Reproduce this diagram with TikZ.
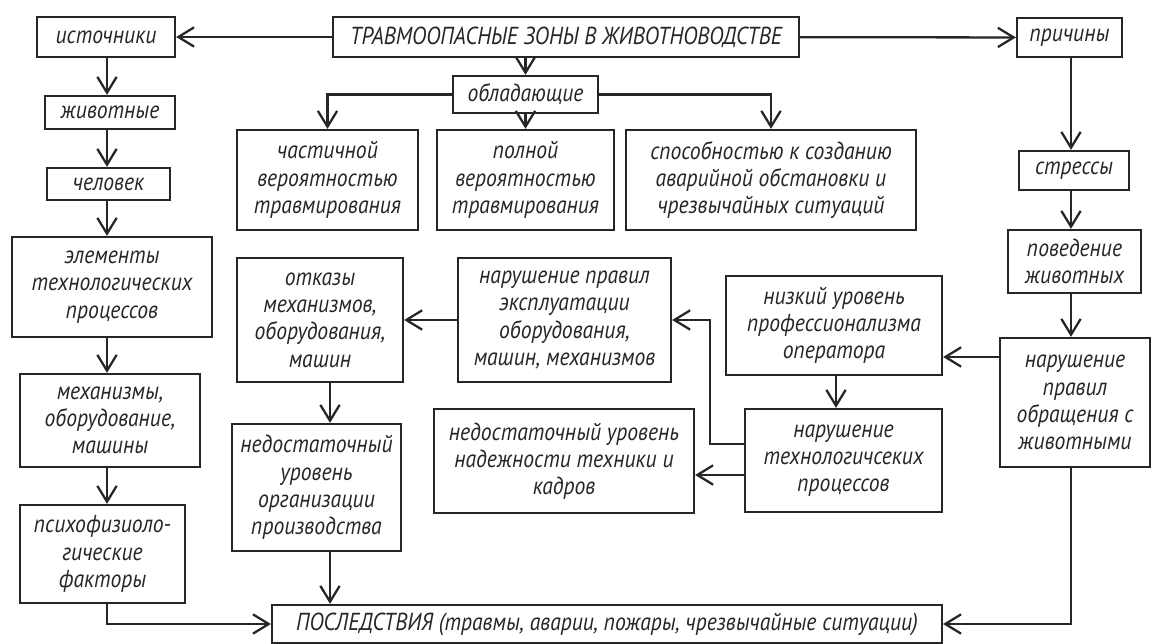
\documentclass[tikz,border=0pt]{standalone}
\usepackage{fontspec}
\setmainfont{PT Sans}[FakeStretch=0.88]
\usetikzlibrary{arrows.meta}

\begin{document}
\begin{tikzpicture}[x=0.02cm, y=-0.02cm,
    box/.style={draw=black!85, line width=1.3pt, align=center, inner sep=0pt, text=black!85, font=\itshape\fontsize{14}{15.5}\selectfont},
    arr/.style={draw=black!85, line width=1.3pt, arrows = {-Straight Barb[width=11pt, length=9pt]}}]
    \useasboundingbox (0, 0) rectangle (1153, 644);
    % top row
    \node[box, minimum width=9.32cm, minimum height=0.8cm] (title) at (566, 37) {ТРАВМООПАСНЫЕ ЗОНЫ В ЖИВОТНОВОДСТВЕ};
    \node[box, minimum width=2.76cm, minimum height=0.8cm] (istoch) at (106, 37) {источники};
    \node[box, minimum width=2.1cm, minimum height=0.78cm] (prich) at (1069.5, 37.5) {причины};
    \node[box, minimum width=2.9cm, minimum height=0.74cm] (obl) at (525.5, 94.5) {обладающие};
    \node[box, minimum width=3.62cm, minimum height=2cm] (chast) at (327.5, 180) {частичной\\вероятностью\\травмирования};
    \node[box, minimum width=3.54cm, minimum height=2cm] (poln) at (525.5, 180) {полной\\вероятностью\\травмирования};
    \node[box, minimum width=5.8cm, minimum height=2cm] (sposob) at (771, 180) {способностью к созданию\\аварийной обстановки и\\чрезвычайных ситуаций};
    % left column
    \node[box, minimum width=2.6cm, minimum height=0.66cm] (zhiv) at (110, 112.5) {животные};
    \node[box, minimum width=2.46cm, minimum height=0.64cm] (chel) at (108.5, 184) {человек};
    \node[box, minimum width=4cm, minimum height=2cm] (elem) at (112, 287) {элементы\\технологических\\процессов};
    \node[box, minimum width=3.6cm, minimum height=1.86cm] (mech) at (110, 420.5) {механизмы,\\оборудование,\\машины};
    \node[box, minimum width=3.3cm, minimum height=1.96cm] (psych) at (102.5, 554) {психофизиоло-\\гические\\факторы};
    % right column
    \node[box, minimum width=2.2cm, minimum height=0.78cm] (stress) at (1074, 170.5) {стрессы};
    \node[box, minimum width=2.66cm, minimum height=1.26cm] (poved) at (1074.5, 261.5) {поведение\\животных};
    \node[box, minimum width=3cm, minimum height=2.58cm] (obrash) at (1075, 402.5) {нарушение\\правил\\обращения с\\животными};
    % middle
    \node[box, minimum width=3.32cm, minimum height=2.48cm] (otkaz) at (320, 320) {отказы\\механизмов,\\оборудования,\\машин};
    \node[box, minimum width=4.26cm, minimum height=2.48cm] (expl) at (564.5, 320) {нарушение правил\\эксплуатации\\оборудования,\\машин, механизмов};
    \node[box, minimum width=4.32cm, minimum height=1.98cm] (nizk) at (834, 325.5) {низкий уровень\\профессионализма\\оператора};
    \node[box, minimum width=3.38cm, minimum height=2.54cm] (nedorg) at (316.5, 487.5) {недостаточный\\уровень\\организации\\производства};
    \node[box, minimum width=5.2cm, minimum height=2.08cm] (nadezh) at (564, 461) {недостаточный уровень\\надежности техники и\\кадров};
    \node[box, minimum width=3.94cm, minimum height=2.06cm] (techn) at (843.5, 460.5) {нарушение\\технологичсеких\\процессов};
    \node[box, minimum width=13.4cm, minimum height=0.76cm] (posl) at (607, 624) {ПОСЛЕДСТВИЯ (травмы, аварии, пожары, чрезвычайные ситуации)};
    % helper points for the elbows
    \coordinate (lcol) at (107, 0);
    \coordinate (rcol) at (1071, 0);
    \coordinate (mcol) at (330, 0);
    \coordinate (tcol) at (836, 0);
    \coordinate (ocol) at (710, 0);
    \coordinate (ynizk) at (0, 357);
    \coordinate (yup) at (0, 444);
    \coordinate (ylow) at (0, 475);
    % connectors
    \draw[arr] (title) -- (istoch);
    \draw[arr] (title) -- (prich);
    \draw[arr] (title.south -| obl.north) -- (obl.north);
    \draw[arr] (obl.west) -| (chast.north);
    \draw[arr] (obl) -- (poln);
    \draw[arr] (obl.east) -| (sposob.north);
    \draw[arr] (istoch.south -| lcol) -- (zhiv.north -| lcol);
    \draw[arr] (zhiv.south -| lcol) -- (chel.north -| lcol);
    \draw[arr] (chel.south -| lcol) -- (elem.north -| lcol);
    \draw[arr] (elem.south -| lcol) -- (mech.north -| lcol);
    \draw[arr] (mech.south -| lcol) -- (psych.north -| lcol);
    \draw[arr] (psych.south -| lcol) |- (posl.west);
    \draw[arr] (prich.south -| rcol) -- (stress.north -| rcol);
    \draw[arr] (stress.south -| rcol) -- (poved.north -| rcol);
    \draw[arr] (poved.south -| rcol) -- (obrash.north -| rcol);
    \draw[arr] (obrash.south -| rcol) |- (posl.east);
    \draw[arr] (obrash.west |- ynizk) -- (nizk.east |- ynizk);
    \draw[arr] (nizk.south -| tcol) -- (techn.north -| tcol);
    \draw[arr] (techn.west |- yup) -| (ocol |- expl.east) -- (expl.east);
    \draw[arr] (techn.west |- ylow) -- (nadezh.east |- ylow);
    \draw[arr] (expl) -- (otkaz);
    \draw[arr] (otkaz.south -| mcol) -- (nedorg.north -| mcol);
    \draw[arr] (nedorg.south -| mcol) -- (posl.north -| mcol);
\end{tikzpicture}
\end{document}
